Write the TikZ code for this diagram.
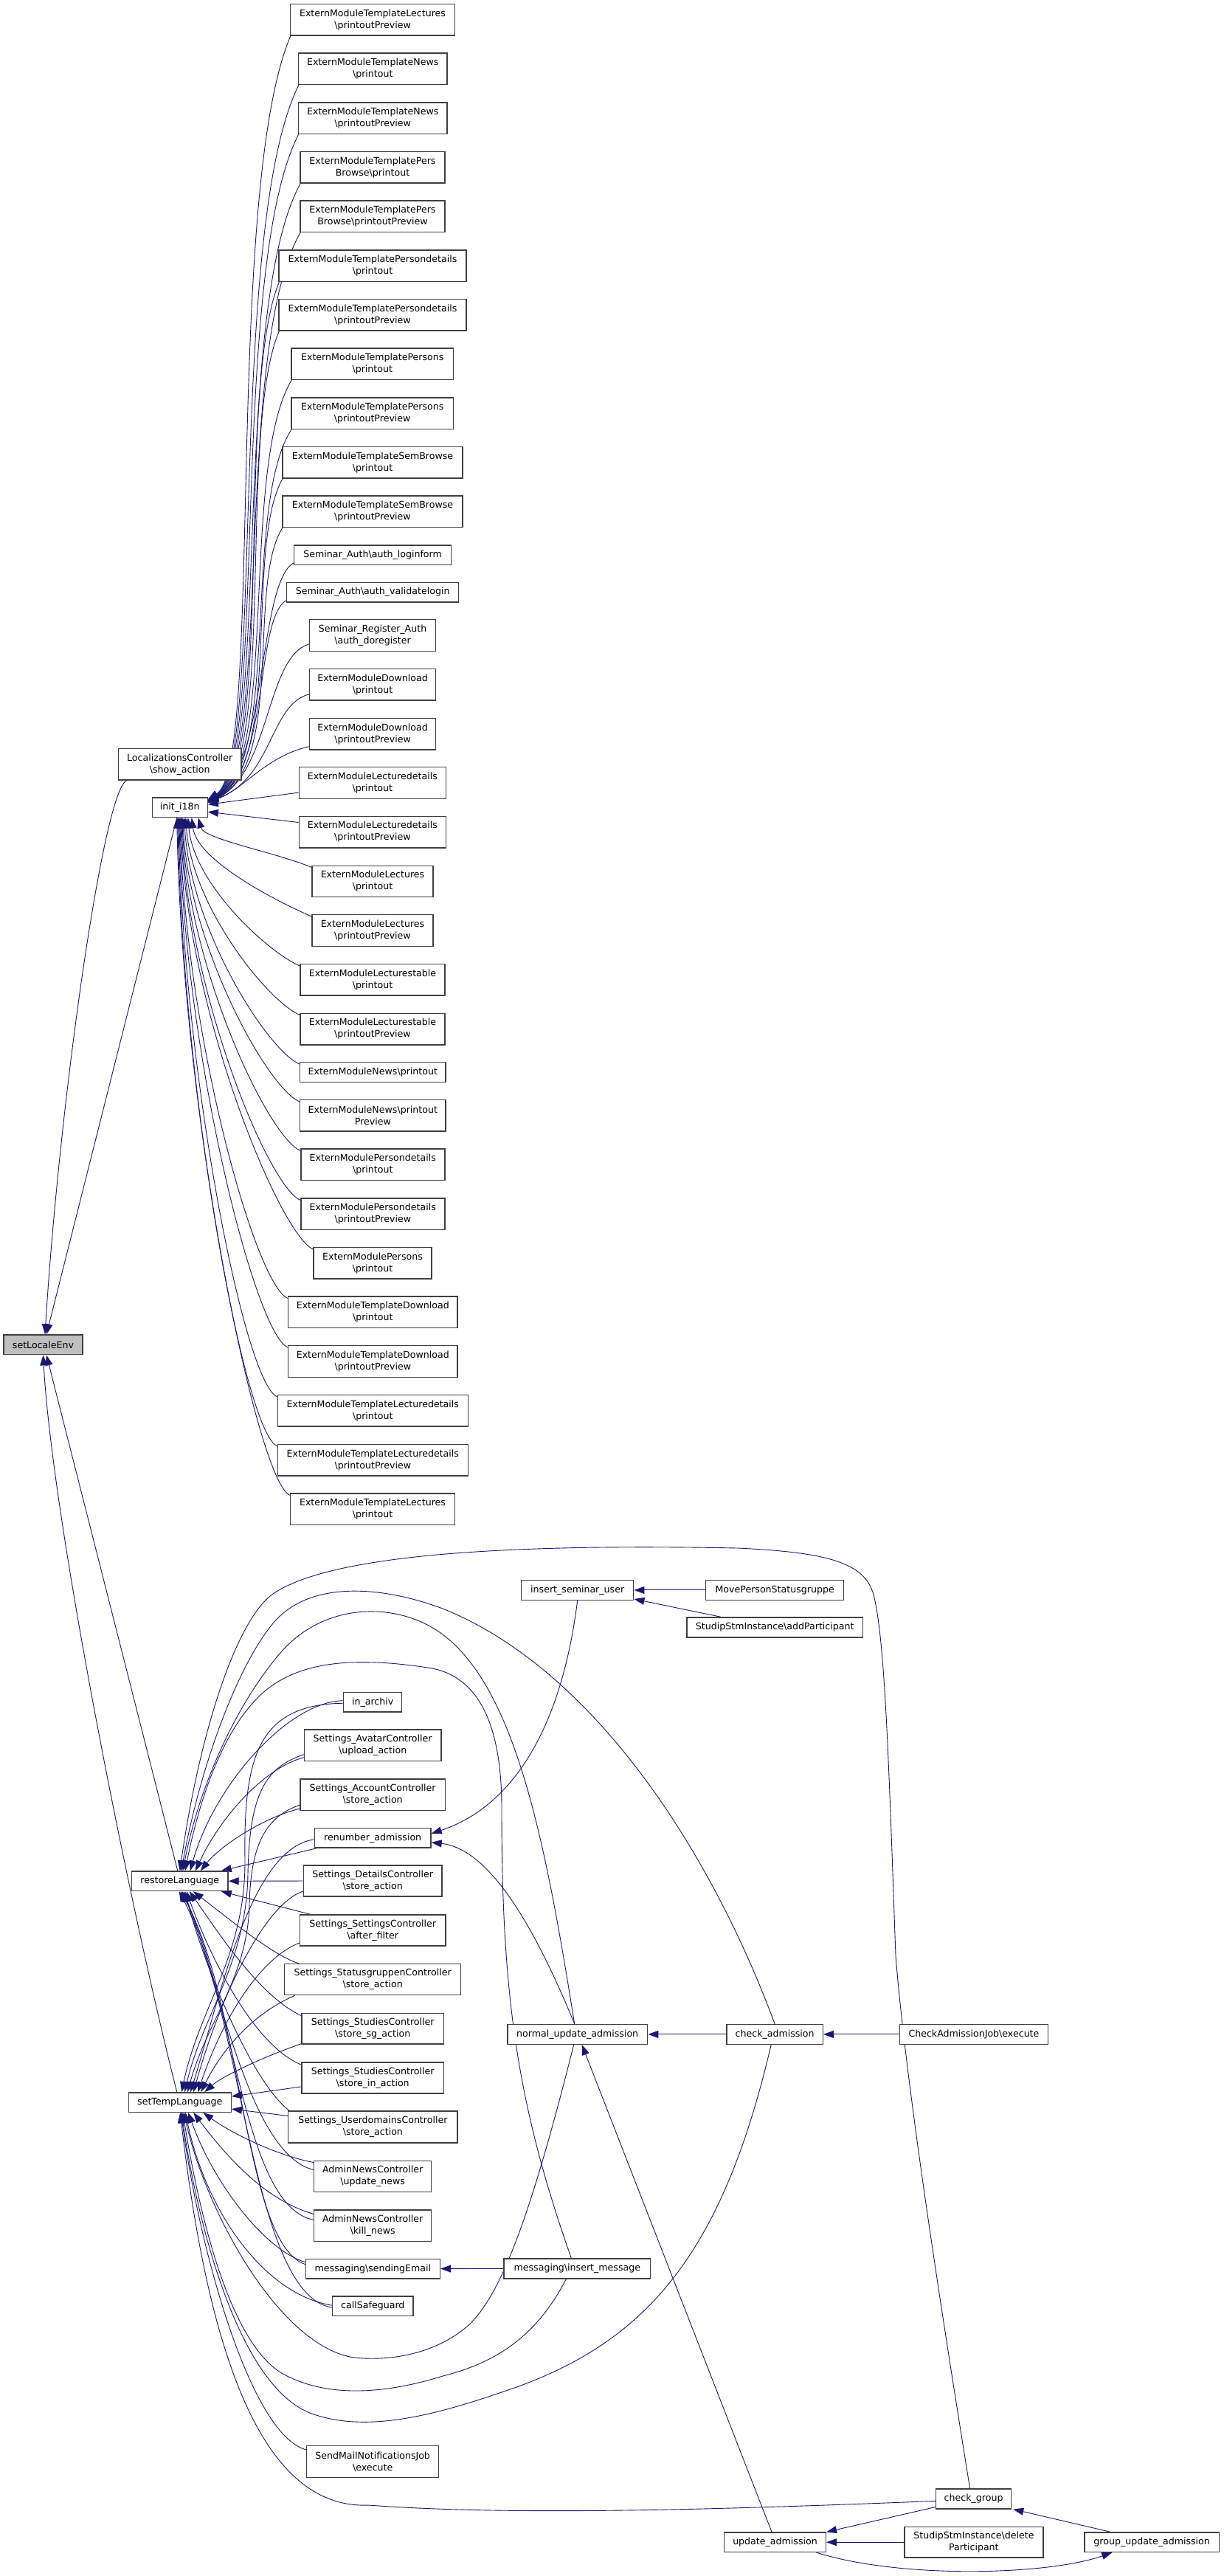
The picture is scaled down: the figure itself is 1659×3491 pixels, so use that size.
\documentclass[tikz,border=0pt]{standalone}
\usepackage{fontspec}
\setmainfont{DejaVu Sans}
\usetikzlibrary{arrows.meta,calc}
\definecolor{edgeblue}{HTML}{191970}
\definecolor{boxline}{HTML}{404040}
\definecolor{hl}{HTML}{BFBFBF}
\pgfdeclarelayer{back}
\pgfdeclarelayer{bg}
\pgfsetlayers{back,bg,main}
\newcommand{\mkbox}[6]{\node[box,minimum width={#3-#2},minimum height={#5-#4}] (#1) at ({(#2+#3)/2},{(#4+#5)/2}) {#6};}
\begin{document}
\begin{tikzpicture}[x=1pt,y=-1pt,
  box/.style={draw=boxline,line width=1.4pt,fill=white,inner sep=0pt,align=center,font=\fontsize{12.6}{16}\selectfont},
  edge/.style={draw=edgeblue,line width=0.9pt,-{Triangle[length=14pt,width=10pt]}}]
\begin{pgfonlayer}{back}
\fill[white] (0,0) rectangle (1659,3491);
\end{pgfonlayer}
\useasboundingbox (0,0) rectangle (1659,3491);

% ---- callers of init_i18n
\mkbox{n1}{393.5}{616.6}{5.4}{47.8}{ExternModuleTemplateLectures\\\textbackslash printoutPreview}
\mkbox{n2}{404.5}{606}{72}{114.7}{ExternModuleTemplateNews\\\textbackslash printout}
\mkbox{n3}{404.5}{606}{138.8}{181.2}{ExternModuleTemplateNews\\\textbackslash printoutPreview}
\mkbox{n4}{407}{603}{205.3}{248}{ExternModuleTemplatePers\\Browse\textbackslash printout}
\mkbox{n5}{407}{603}{272}{314.6}{ExternModuleTemplatePers\\Browse\textbackslash printoutPreview}
\mkbox{n6}{378}{632}{338.8}{381.3}{ExternModuleTemplatePersondetails\\\textbackslash printout}
\mkbox{n7}{378}{632}{405.5}{448}{ExternModuleTemplatePersondetails\\\textbackslash printoutPreview}
\mkbox{n8}{395}{614.5}{472}{514.6}{ExternModuleTemplatePersons\\\textbackslash printout}
\mkbox{n9}{395}{614.5}{538.8}{581.3}{ExternModuleTemplatePersons\\\textbackslash printoutPreview}
\mkbox{n10}{383}{627}{605.3}{647.8}{ExternModuleTemplateSemBrowse\\\textbackslash printout}
\mkbox{n11}{383}{627}{671.8}{714.3}{ExternModuleTemplateSemBrowse\\\textbackslash printoutPreview}
\mkbox{n12}{398.6}{611.6}{738.8}{765.2}{Seminar\_Auth\textbackslash auth\_loginform}
\mkbox{n13}{388.5}{621.7}{789.3}{816}{Seminar\_Auth\textbackslash auth\_validatelogin}
\mkbox{n14}{419.6}{590.5}{839.7}{882.2}{Seminar\_Register\_Auth\\\textbackslash auth\_doregister}
\mkbox{n15}{419.6}{590.5}{906.7}{949.1}{ExternModuleDownload\\\textbackslash printout}
\mkbox{n16}{419.6}{590.5}{973.2}{1016}{ExternModuleDownload\\\textbackslash printoutPreview}
\mkbox{n17}{405.3}{604.4}{1039.7}{1082.5}{ExternModuleLecturedetails\\\textbackslash printout}
\mkbox{n18}{405.3}{604.4}{1106.2}{1148.8}{ExternModuleLecturedetails\\\textbackslash printoutPreview}
\mkbox{n19}{423}{587}{1173.2}{1215.6}{ExternModuleLectures\\\textbackslash printout}
\mkbox{n20}{423}{587}{1239.7}{1282.5}{ExternModuleLectures\\\textbackslash printoutPreview}
\mkbox{n21}{407}{603}{1306.7}{1349.1}{ExternModuleLecturestable\\\textbackslash printout}
\mkbox{n22}{407}{603}{1373.2}{1415.8}{ExternModuleLecturestable\\\textbackslash printoutPreview}
\mkbox{n23}{406.6}{604}{1439.7}{1466.5}{ExternModuleNews\textbackslash printout}
\mkbox{n24}{406.6}{604}{1490.6}{1533}{ExternModuleNews\textbackslash printout\\Preview}
\mkbox{n25}{407.8}{602.8}{1557.1}{1599.6}{ExternModulePersondetails\\\textbackslash printout}
\mkbox{n26}{407.8}{602.8}{1624.1}{1666.5}{ExternModulePersondetails\\\textbackslash printoutPreview}
\mkbox{n27}{425}{585}{1690.6}{1733}{ExternModulePersons\\\textbackslash printout}
\mkbox{n28}{390.6}{620}{1757.1}{1799.5}{ExternModuleTemplateDownload\\\textbackslash printout}
\mkbox{n29}{390.6}{620}{1823.6}{1866.5}{ExternModuleTemplateDownload\\\textbackslash printoutPreview}
\mkbox{n30}{376.3}{634.3}{1890.6}{1933}{ExternModuleTemplateLecturedetails\\\textbackslash printout}
\mkbox{n31}{376.3}{634.3}{1957.4}{1999.9}{ExternModuleTemplateLecturedetails\\\textbackslash printoutPreview}
\mkbox{n32}{393.5}{616.6}{2024}{2066.5}{ExternModuleTemplateLectures\\\textbackslash printout}

% ---- left column
\node[box,fill=hl,minimum width=107,minimum height=26.7] (sle) at (58.5,1822.35) {setLocaleEnv};
\mkbox{lc}{160.4}{327}{1014.7}{1057.1}{LocalizationsController\\\textbackslash show\_action}
\mkbox{init}{206.3}{281.2}{1080.8}{1107.6}{init\_i18n}
\mkbox{rl}{178.6}{309}{2536}{2562.5}{restoreLanguage}
\mkbox{tl}{174.3}{313.2}{2835.8}{2862.3}{setTempLanguage}

% ---- middle column
\mkbox{inarch}{465.7}{544.6}{2293.4}{2320}{in\_archiv}
\mkbox{avatar}{412.5}{597.8}{2343.9}{2386.6}{Settings\_AvatarController\\\textbackslash upload\_action}
\mkbox{account}{407}{603.2}{2411}{2453.2}{Settings\_AccountController\\\textbackslash store\_action}
\mkbox{renum}{426.4}{584}{2477.5}{2504.1}{renumber\_admission}
\mkbox{details}{411.4}{599}{2528}{2570}{Settings\_DetailsController\\\textbackslash store\_action}
\mkbox{settings}{406.4}{604}{2595}{2637}{Settings\_SettingsController\\\textbackslash after\_filter}
\mkbox{statusg}{385.7}{624.6}{2661.6}{2703.4}{Settings\_StatusgruppenController\\\textbackslash store\_action}
\mkbox{studsg}{409}{601.4}{2728.2}{2770}{Settings\_StudiesController\\\textbackslash store\_sg\_action}
\mkbox{studin}{409}{601.4}{2794.8}{2837}{Settings\_StudiesController\\\textbackslash store\_in\_action}
\mkbox{userdom}{390.7}{620}{2861.1}{2903.8}{Settings\_UserdomainsController\\\textbackslash store\_action}
\mkbox{updnews}{425.7}{584.6}{2928.2}{2970.5}{AdminNewsController\\\textbackslash update\_news}
\mkbox{killnews}{425.7}{584.6}{2995}{3037.3}{AdminNewsController\\\textbackslash kill\_news}
\mkbox{sendmail}{414.3}{596.4}{3061.3}{3087.8}{messaging\textbackslash sendingEmail}
\mkbox{safeg}{450.7}{560}{3111.9}{3138.4}{callSafeguard}
\mkbox{smnj}{415.7}{594.6}{3314.6}{3357.3}{SendMailNotificationsJob\\\textbackslash execute}

% ---- right part
\mkbox{isu}{706.7}{858.7}{2141.5}{2168.3}{insert\_seminar\_user}
\mkbox{mps}{956.6}{1143.7}{2141.5}{2168.3}{MovePersonStatusgruppe}
\mkbox{addp}{931}{1169.4}{2192}{2218.8}{StudipStmInstance\textbackslash addParticipant}
\mkbox{nua}{687.8}{877.6}{2743.5}{2770.3}{normal\_update\_admission}
\mkbox{ca}{985}{1115.3}{2743.5}{2770.3}{check\_admission}
\mkbox{caj}{1219.3}{1420.6}{2743.5}{2770.3}{CheckAdmissionJob\textbackslash execute}
\mkbox{im}{683.1}{881.6}{3061}{3087.9}{messaging\textbackslash insert\_message}
\mkbox{cg}{1268.6}{1370.6}{3372.9}{3399.8}{check\_group}
\mkbox{ua}{981.6}{1119.4}{3432}{3458.4}{update\_admission}
\mkbox{dp}{1226}{1413.8}{3424.4}{3466}{StudipStmInstance\textbackslash delete\\Participant}
\mkbox{gua}{1470}{1652.3}{3432}{3458.4}{group\_update\_admission}

\begin{pgfonlayer}{bg}
% ---- into init_i18n, upper group
\foreach \n/\vx/\yb/\dy in {n1/328/47.8/3,n2/331/114.7/3.5,n3/334/181.2/4,n4/337/248/4.5,n5/340/314.6/5,n6/343/381.3/5.5,n7/346/448/6,n8/349/514.6/6.5,n9/352/581.3/7,n10/355/647.8/7.5,n11/358/714.3/8}
  \draw[edge] ($(\n.south west)+(2,-2)$) .. controls ({\vx-25},{\yb+0.2*(1087-\yb)}) and ({\vx+30},1036) .. ($(init.north east)+(0,\dy)$);
\draw[edge] ($(n12.south west)+(0,-3)$) .. controls (350,790) and (362,1040) .. ($(init.north east)+(0,5)$);
\draw[edge] ($(n13.south west)+(0,-3)$) .. controls (345,840) and (366,1045) .. ($(init.north east)+(0,5.5)$);
\draw[edge] ($(n14.south west)+(0,-10)$) .. controls (360,890) and (366,1050) .. ($(init.north east)+(0,6)$);
\draw[edge] ($(n15.south west)+(0,-9)$) .. controls (365,955) and (370,1055) .. ($(init.north east)+(0,6.5)$);
\draw[edge] ($(n16.south west)+(0,-5)$) .. controls (360,1025) and (330,1070) .. ($(init.north east)+(0,7)$);
\draw[edge] ($(n17.west)+(0,13)$) -- ($(init.east)+(0,-4)$);
\draw[edge] ($(n18.west)+(0,-13)$) -- ($(init.east)+(0,6)$);
% ---- into init_i18n, lower group
\foreach \n/\xl/\yt/\tx in {n19/423/1173.2/25,n20/423/1239.7/16,n21/407/1306.7/11,n22/407/1373.2/8,n23/406.6/1439.7/6,n24/406.6/1490.6/4,n25/407.8/1557.1/3,n26/407.8/1624.1/2,n27/425/1690.6/1,n28/390.6/1757.1/0,n29/390.6/1823.6/-1,n30/376.3/1890.6/-2,n31/376.3/1957.4/-3,n32/393.5/2024/-4}
  \draw[edge] ($(\n.north west)+(0,3)$) .. controls ({\xl-45},{\yt-17}) and ({251.5+\tx},{1108+0.45*(\yt-1108)}) .. ($(init.south)+(\tx,0)$);

% ---- into setLocaleEnv
\draw[edge] ($(lc.south west)+(12,0)$) .. controls (140,1070) and (80,1500) .. ($(sle.north)+(2.5,0)$);
\draw[edge] ($(init.south)+(-4,0)$) -- ($(sle.north)+(4.5,0)$);
\draw[edge] ($(rl.north)+(-3,0)$) -- ($(sle.south)+(4.5,0)$);
\draw[edge] ($(tl.north)+(-4,0)$) .. controls (170,2560) and (70,2050) .. (sle.south);

% ---- into restoreLanguage
\draw[edge] ($(cg.north)+(-5,0)$) .. controls (1283,3176) and (1228,2830) .. (1214,2650) .. controls (1205,2400) and (1200,2230) .. (1185,2165) .. controls (1175,2120) and (1130,2104) .. (1000,2098) .. controls (700,2092) and (450,2105) .. (370,2160) .. controls (320,2195) and (270,2350) .. (rl.north);
\draw[edge] (ca.north) .. controls (960,2500) and (800,2260) .. (600,2180) .. controls (520,2150) and (420,2140) .. (370,2200) .. controls (320,2260) and (270,2400) .. ($(rl.north)+(2,0)$);
\draw[edge] ($(nua.north)+(-4,0)$) .. controls (740,2500) and (700,2290) .. (600,2215) .. controls (540,2170) and (440,2170) .. (380,2240) .. controls (320,2310) and (270,2420) .. ($(rl.north)+(4,0)$);
\draw[edge] ($(im.north)+(-8,0)$) .. controls (700,2850) and (680,2700) .. (680,2450) .. controls (680,2340) and (650,2270) .. (580,2260) .. controls (480,2245) and (400,2250) .. (350,2300) .. controls (300,2350) and (270,2440) .. ($(rl.north)+(7,0)$);
\draw[edge] ($(inarch.west)+(0,-2)$) .. controls (390,2306) and (290,2420) .. ($(rl.north)+(14,0)$);
\draw[edge] ($(avatar.west)+(0,16.5)$) .. controls (360,2395) and (300,2460) .. ($(rl.north)+(21,0)$);
\draw[edge] ($(account.west)+(0,19)$) .. controls (360,2462) and (300,2500) .. ($(rl.north)+(28,0)$);
\draw[edge] ($(renum.south west)+(3,0)$) -- ($(rl.north)+(56,0)$);
\draw[edge] (details.west) -- (rl.east);
\draw[edge] ($(settings.north west)+(15,0)$) -- ($(rl.south)+(56,0)$);
\draw[edge] ($(statusg.north west)+(20,0)$) .. controls (370,2650) and (310,2600) .. ($(rl.south)+(18,0)$);
\draw[edge] ($(studsg.north west)+(0,4)$) .. controls (350,2705) and (290,2610) .. ($(rl.south)+(13,0)$);
\draw[edge] ($(studin.north west)+(0,4)$) .. controls (340,2770) and (280,2640) .. ($(rl.south)+(9,0)$);
\draw[edge] ($(userdom.north west)+(2,0)$) .. controls (340,2820) and (275,2660) .. ($(rl.south)+(7,0)$);
\draw[edge] ($(updnews.north west)+(0,13)$) .. controls (340,2920) and (300,2700) .. ($(rl.south)+(5,0)$);
\draw[edge] ($(killnews.north west)+(0,14)$) .. controls (330,2990) and (320,2720) .. ($(rl.south)+(3,0)$);
\draw[edge] ($(sendmail.west)+(0,-6)$) .. controls (330,3040) and (330,2720) .. ($(rl.south)+(1,0)$);
\draw[edge] ($(safeg.west)+(0,2)$) .. controls (340,3110) and (330,2730) .. ($(rl.south)+(-1,0)$);

% ---- into setTempLanguage
\draw[edge] ($(inarch.west)+(0,1.5)$) .. controls (350,2310) and (330,2380) .. (332,2520) .. controls (333,2650) and (270,2720) .. ($(tl.north)+(2.5,0)$);
\draw[edge] ($(avatar.west)+(0,12.5)$) .. controls (360,2395) and (338,2430) .. (336,2540) .. controls (334,2660) and (275,2730) .. ($(tl.north)+(6.5,0)$);
\draw[edge] ($(account.west)+(0,14)$) .. controls (360,2462) and (340,2500) .. (338,2580) .. controls (336,2680) and (280,2740) .. ($(tl.north)+(10.5,0)$);
\draw[edge] ($(renum.west)+(0,2)$) .. controls (340,2505) and (300,2700) .. ($(tl.north)+(14.5,0)$);
\draw[edge] ($(details.west)+(0,14)$) .. controls (360,2580) and (300,2700) .. ($(tl.north)+(18.5,0)$);
\draw[edge] ($(settings.west)+(0,17)$) .. controls (350,2655) and (300,2740) .. ($(tl.north)+(24.5,0)$);
\draw[edge] ($(statusg.south west)+(15,0)$) .. controls (340,2730) and (300,2780) .. ($(tl.north)+(28.5,0)$);
\draw[edge] ($(studsg.south west)+(0,-1)$) .. controls (350,2790) and (300,2815) .. ($(tl.north)+(33.5,0)$);
\draw[edge] ($(studin.west)+(0,12)$) -- ($(tl.east)+(0,-8)$);
\draw[edge] ($(userdom.north west)+(0,7)$) -- ($(tl.east)+(0,9)$);
\draw[edge] ($(updnews.north west)+(0,3)$) .. controls (380,2922) and (320,2895) .. ($(tl.south)+(31.5,0)$);
\draw[edge] ($(killnews.north west)+(0,6)$) .. controls (370,2985) and (320,2940) .. ($(tl.south)+(18.5,0)$);
\draw[edge] ($(sendmail.west)+(0,-9)$) .. controls (360,3050) and (290,2960) .. ($(tl.south)+(11.5,0)$);
\draw[edge] ($(safeg.west)+(0,-1)$) .. controls (360,3110) and (280,3000) .. ($(tl.south)+(7.5,0)$);
\draw[edge] ($(nua.south)+(-5,0)$) .. controls (720,3000) and (680,3110) .. (634,3152) .. controls (590,3190) and (530,3200) .. (480,3195) .. controls (380,3180) and (280,3000) .. ($(tl.south)+(5.5,0)$);
\draw[edge] ($(im.south)+(-15,0)$) .. controls (730,3160) and (680,3200) .. (600,3220) .. controls (520,3245) and (440,3250) .. (380,3215) .. controls (310,3170) and (270,3000) .. ($(tl.south)+(4,0)$);
\draw[edge] ($(ca.south)+(-5,0)$) .. controls (980,3050) and (880,3170) .. (700,3235) .. controls (600,3270) and (500,3300) .. (420,3270) .. controls (320,3230) and (265,3000) .. ($(tl.south)+(2.5,0)$);
\draw[edge] ($(smnj.north west)+(0,6)$) .. controls (340,3300) and (270,3050) .. ($(tl.south)+(1.5,0)$);
\draw[edge] ($(cg.west)+(0,3)$) .. controls (1000,3400) and (700,3410) .. (500,3395) .. controls (380,3400) and (290,3260) .. ($(tl.south)+(0.5,0)$);

% ---- other edges
\draw[edge] (mps.west) -- (isu.east);
\draw[edge] ($(addp.north west)+(47,0)$) -- ($(isu.south east)+(0,-2)$);
\draw[edge] (isu.south) .. controls (760,2350) and (690,2450) .. ($(renum.east)+(0,-6)$);
\draw[edge] ($(nua.north)+(-4,0)$) .. controls (720,2600) and (660,2505) .. ($(renum.east)+(0,6)$);
\draw[edge] (ca.west) -- (nua.east);
\draw[edge] (caj.west) -- (ca.east);
\draw[edge] ($(ua.north)+(-4.5,0)$) -- ($(nua.south)+(6,0)$);
\draw[edge] ($(cg.south west)+(0,-3)$) -- (ua.north east);
\draw[edge] (dp.west) -- (ua.east);
\draw[edge] ($(gua.north)+(-56,0)$) -- ($(cg.south east)+(2,0)$);
\draw[edge] ($(ua.south)+(56,0)$) .. controls (1220,3495) and (1420,3490) .. ($(gua.south west)+(38,0)$);
\draw[edge] (im.west) -- (sendmail.east);
\end{pgfonlayer}
\end{tikzpicture}
\end{document}
